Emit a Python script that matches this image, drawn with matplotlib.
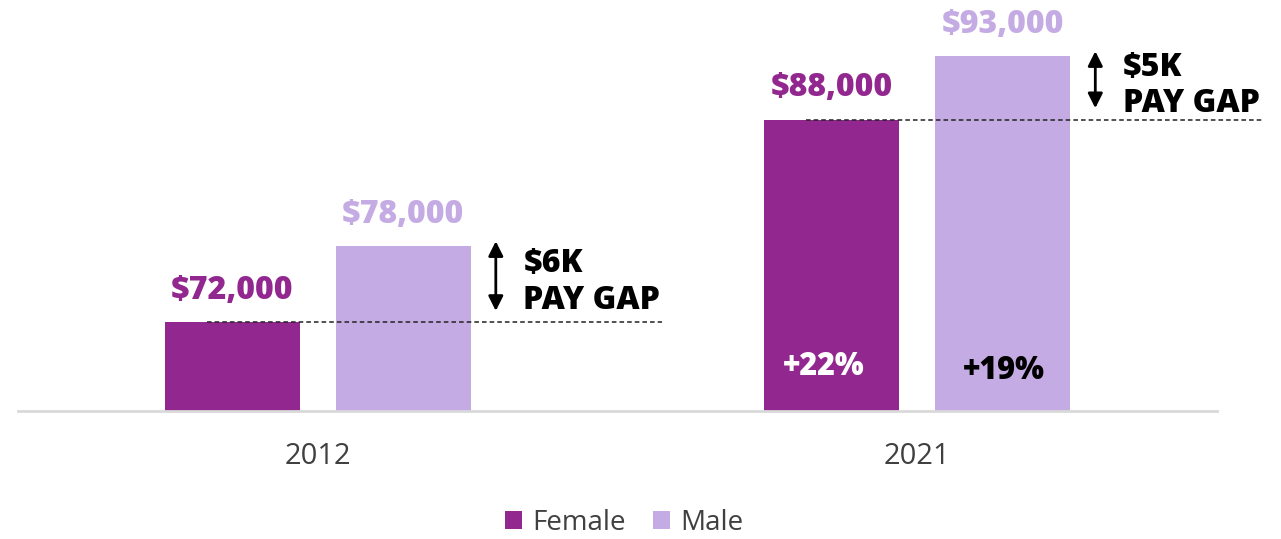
import matplotlib.pyplot as plt
import numpy as np

years = ["2012", "2021"]
female = [72000, 88000]
male = [78000, 93000]
gap_labels = ["$6K\nPAY GAP", "$5K\nPAY GAP"]
female_growth = ["", "+22%"]
male_growth = ["", "+19%"]

female_color = "#92278F"
male_color = "#C5ABE3"

plt.rcParams["font.family"] = ["Open Sans", "DejaVu Sans"]

fig = plt.figure(figsize=(12.81, 5.39), dpi=100)
ax = fig.add_axes([18 / 1281, 1 - 411 / 539, 1199 / 1281, 411 / 539])

x = np.arange(len(years))
w = 0.2254
off = 0.1427

fb = ax.bar(x - off, female, w, color=female_color, label="Female")
mb = ax.bar(x + off, male, w, color=male_color, label="Male")

for i in range(len(years)):
    # valeurs au-dessus des barres
    ax.annotate(f"${female[i]:,}", (x[i] - off, female[i]), xytext=(0, 11),
                textcoords="offset points", ha="center", va="bottom",
                fontsize=23, fontweight="heavy", color=female_color)
    ax.annotate(f"${male[i]:,}", (x[i] + off, male[i]), xytext=(0, 11),
                textcoords="offset points", ha="center", va="bottom",
                fontsize=23, fontweight="heavy", color=male_color)

    # ligne pointillée au niveau du salaire féminin
    ax.plot([x[i] - 0.185, x[i] + 0.575], [female[i], female[i]], ls=(0, (3, 2)),
            color="#222222", lw=1.1, clip_on=False, zorder=3)

    # flèche double pour l'écart
    ax.annotate("", xy=(x[i] + 0.297, male[i] + 400), xytext=(x[i] + 0.297, female[i] + 900),
                arrowprops=dict(arrowstyle="<|-|>", color="black", lw=2,
                                mutation_scale=22, shrinkA=0, shrinkB=0),
                annotation_clip=False)
    ax.text(x[i] + 0.343, (female[i] + male[i]) / 2 + 150, gap_labels[i], ha="left", va="center",
            fontsize=23, fontweight="heavy", color="black", linespacing=1.2, clip_on=False)

    if female_growth[i]:
        ax.annotate(female_growth[i], (x[i] - off, 65000), xytext=(-6, 32),
                    textcoords="offset points", ha="center", va="center",
                    fontsize=22, fontweight="heavy", color="white")
    if male_growth[i]:
        ax.annotate(male_growth[i], (x[i] + off, 65000), xytext=(1, 29),
                    textcoords="offset points", ha="center", va="center",
                    fontsize=22, fontweight="heavy", color="black")

ax.set_xlim(-0.5, 1.5)
ax.set_ylim(65000, 97440)
ax.set_xticks(x)
ax.set_xticklabels(years, fontsize=21, color="#404040")
ax.tick_params(axis="x", length=0, pad=22)
ax.set_yticks([])
for s in ["top", "right", "left"]:
    ax.spines[s].set_visible(False)
ax.spines["bottom"].set_color("#D9D9D9")
ax.spines["bottom"].set_linewidth(2)

fig.legend(handles=[fb, mb], loc="center", bbox_to_anchor=(624 / 1281, 0.03), ncol=2,
           frameon=False, fontsize=20, labelcolor="#404040", handlelength=0.62,
           handleheight=0.62, handletextpad=0.35, columnspacing=1.0,
           borderpad=0, borderaxespad=0)

fig.savefig("out.png", dpi=100)
